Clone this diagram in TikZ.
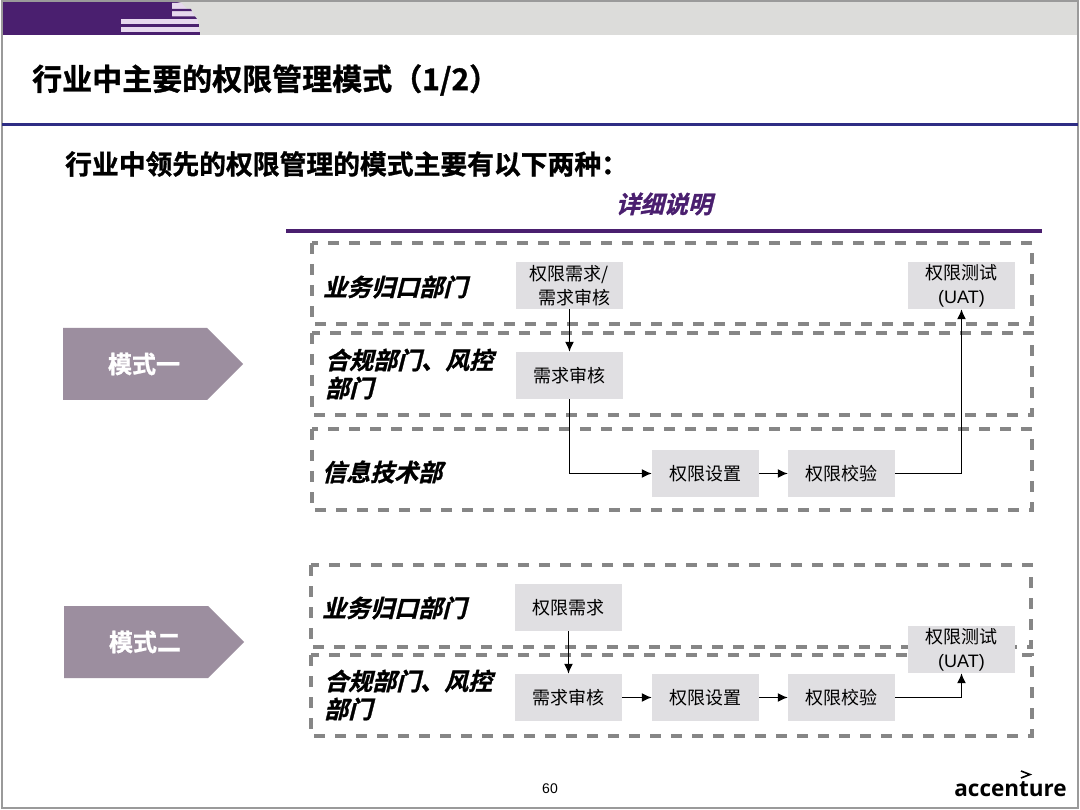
\documentclass[tikz,border=0pt]{standalone}
\usepackage{fontspec}
\setmainfont{Noto Sans CJK SC}
\newfontfamily\lat{Liberation Sans}
\newfontfamily\logofont{Open Sans}
\newfontfamily\cjkb[FakeBold=1.1]{Noto Sans CJK SC Bold}
\newfontfamily\cjks[FakeSlant=0.25,FakeBold=1.1]{Noto Sans CJK SC Bold}
\usetikzlibrary{arrows.meta}
\definecolor{band}{HTML}{DCDCDA}
\definecolor{deep}{HTML}{4A1F6F}
\definecolor{lilac}{HTML}{E6D8EE}
\definecolor{rulecol}{HTML}{2E2D84}
\definecolor{stepfill}{HTML}{E0DFE2}
\definecolor{dashcol}{HTML}{868686}
\definecolor{penta}{HTML}{9C8E9F}
\definecolor{outer}{HTML}{9A9A9A}
\tikzset{
 x=1pt,y=-1pt,
 lane/.style={draw=dashcol,line width=3.2pt,dash pattern=on 11pt off 10pt,fill=none},
 stepbox/.style={fill=stepfill,draw=none,minimum width=107pt,minimum height=47pt,inner sep=0pt,align=center,font=\fontsize{18}{24}\selectfont},
 lanelabel/.style={anchor=west,inner sep=0pt,align=left,font=\fontsize{24}{28}\cjks\selectfont},
 modelabel/.style={inner sep=0pt,text=white,font=\fontsize{24}{28}\cjkb\selectfont},
 flow/.style={draw=black,line width=1.4pt,-{Latex[length=10pt,width=9pt]}},
}
\begin{document}
\begin{tikzpicture}
\useasboundingbox (0,0) rectangle (1080,810);
\fill[white] (0,0) rectangle (1080,810);
% header band
\fill[band] (2,2) rectangle (1078,35);
\fill[deep] (2,1) -- (172,1) -- (181,3) -- (172,3) -- (172,19) -- (121,19) -- (121,35) -- (2,35) -- cycle;
\fill[lilac] (172,3) -- (181,3) -- (187,9) -- (172,9) -- cycle;
\fill[deep] (172,9) -- (191,9) -- (192,11.5) -- (172,11.5) -- cycle;
\fill[lilac] (172,11.5) -- (192,11.5) -- (195,16.5) -- (172,16.5) -- cycle;
\fill[deep] (172,16.5) -- (195,16.5) -- (197,19) -- (172,19) -- cycle;
\fill[lilac] (121,19) rectangle (198,24);
\fill[deep] (121,24) rectangle (199,27);
\fill[lilac] (121,27) rectangle (199,32);
\fill[deep] (121,32) rectangle (200,35);
% outer frame
\draw[outer,line width=2.6pt] (2,1) rectangle (1078,808);
% title
\node[anchor=west,inner sep=0pt,font=\fontsize{30}{36}\cjkb\selectfont] (title) at (32,80) {行业中主要的权限管理模式（1/2）};
\draw[rulecol,line width=3.6pt] (2,124.5) -- (1078,124.5);
\node[anchor=west,inner sep=0pt,font=\fontsize{26.8}{32}\cjkb\selectfont] (sub) at (65,164) {行业中领先的权限管理的模式主要有以下两种：};
\node[inner sep=0pt,text=deep,font=\fontsize{24}{28}\cjks\selectfont] (detail) at (664,204) {详细说明};
\draw[deep,line width=3.2pt] (286,231) -- (1042,231);
% lanes
\draw[lane] (312,243) rectangle (1032,324);
\draw[lane] (312,333) rectangle (1032,415);
\draw[lane] (312,429) rectangle (1032,510);
\draw[lane] (311,565) rectangle (1031,647);
\draw[lane] (311,655) rectangle (1032,736);
% mode arrows
\fill[penta] (63,328) -- (207,328) -- (243,364) -- (207,400) -- (63,400) -- cycle;
\node[modelabel] (m1) at (144,364) {模式一};
\fill[penta] (64,606) -- (208,606) -- (244,642) -- (208,678) -- (64,678) -- cycle;
\node[modelabel] (m2) at (145,642) {模式二};
% lane labels
\node[lanelabel] (l1) at (323,287) {业务归口部门};
\node[lanelabel] (l2) at (325,374) {合规部门、风控\\部门};
\node[lanelabel] (l3) at (322,472) {信息技术部};
\node[lanelabel] (l4) at (322,608) {业务归口部门};
\node[lanelabel] (l5) at (324,695) {合规部门、风控\\部门};
% steps: mode 1
\node[stepbox] (a) at (569.5,285.5) {权限需求/\\\hspace*{9pt}需求审核};
\node[stepbox] (b) at (569.5,375.5) {需求审核};
\node[stepbox] (c) at (705.5,473.5) {权限设置};
\node[stepbox] (d) at (841.5,473.5) {权限校验};
\node[stepbox] (e) at (961.5,285.5) {权限测试\\{\lat (UAT)}};
% steps: mode 2
\node[stepbox] (f) at (568.5,607.5) {权限需求};
\node[stepbox] (g) at (568.5,697.5) {需求审核};
\node[stepbox] (h) at (705.5,697.5) {权限设置};
\node[stepbox] (i) at (841.5,697.5) {权限校验};
\node[stepbox] (j) at (961.5,649.5) {权限测试\\{\lat (UAT)}};
% connectors
\draw[flow] (a) -- (b);
\draw[flow] (b.south) |- (c.west);
\draw[flow] (c) -- (d);
\draw[flow] (d.east) -| (e.south);
\draw[flow] (f) -- (g);
\draw[flow] (g) -- (h);
\draw[flow] (h) -- (i);
\draw[flow] (i.east) -| (j.south);
% footer
\node[inner sep=0pt,font=\fontsize{14}{16}\lat\selectfont] (pg) at (550,789) {60};
\node[anchor=base east,inner sep=0pt,font=\fontsize{22.5}{28}\logofont\bfseries\selectfont] (logo) at (1067,796) {accenture};
\draw[black,line width=1.6pt] (1021,771) -- (1030,774.5) -- (1021,778);
\end{tikzpicture}
\end{document}
